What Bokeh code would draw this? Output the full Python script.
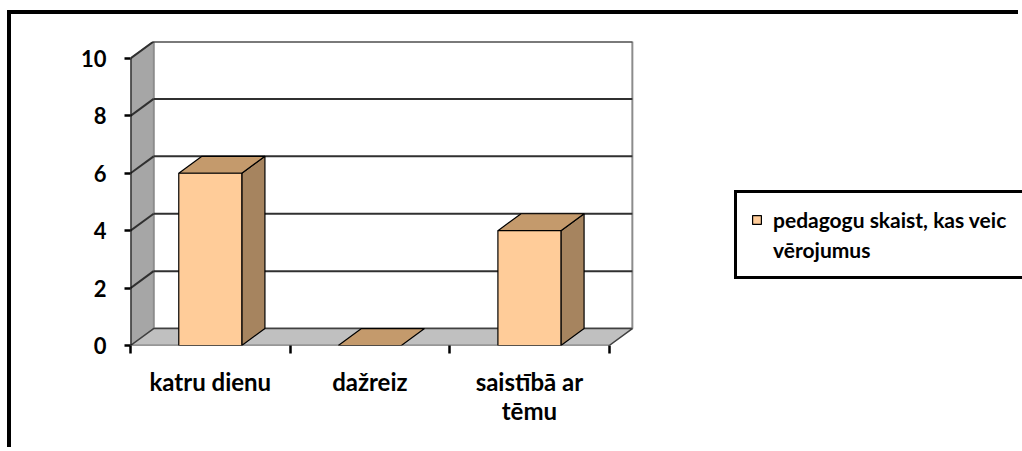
from bokeh.plotting import figure
from bokeh.models import Range1d, FixedTicker, Legend, LegendItem, ColumnDataSource
from bokeh.embed import file_html
from bokeh.resources import INLINE

# ---- data ----
categories = ["katru dienu", "dažreiz", "saistībā ar\ntēmu"]
values = [6, 0, 4]
y_ticks = [0, 2, 4, 6, 8, 10]
series_name = ["pedagogu skaist, kas veic", "vērojumus"]  # legend label, two lines

# ---- layout / style constants ----
BAR_W = 0.395
DX = 0.145   # 3D depth offset (x units)
DY = 0.59    # 3D depth offset (y units)
YMAX = 10
N = len(categories)
X_END = 5.59  # frame extends under the legend area
FONT = "Lato"
FRONT = "#ffcc99"
SIDE = "#a6845f"
TOP = "#c49a6c"

p = figure(width=1011, height=437, output_backend="svg", toolbar_location=None,
           x_range=Range1d(0, X_END), y_range=Range1d(0, YMAX + DY),
           min_border_left=119, min_border_top=27, min_border_bottom=106,
           min_border_right=0)
p.styles = {"margin-left": "7px", "margin-top": "10px",
            "border-left": "4px solid black", "border-top": "4px solid black"}
p.outline_line_color = None
p.xgrid.visible = False
p.ygrid.visible = False
p.background_fill_color = "white"
p.border_fill_color = "white"

# walls and floor
p.patch([DX, N + DX, N + DX, DX], [DY, DY, YMAX + DY, YMAX + DY],
        fill_color="white", line_color="#8c8c8c", line_width=2)
p.patch([0, 0, DX, DX], [0, YMAX, YMAX + DY, DY],
        fill_color="#a6a6a6", line_color="#8c8c8c", line_width=1.5)

# gridlines: back wall + left wall
gy = [t for t in y_ticks if t > 0]
p.segment(x0=[DX] * len(gy), y0=[t + DY for t in gy], x1=[N + DX] * len(gy),
          y1=[t + DY for t in gy], line_color="#303030", line_width=2)
p.segment(x0=[0] * len(gy), y0=gy, x1=[DX] * len(gy), y1=[t + DY for t in gy],
          line_color="#303030", line_width=2)

# floor
p.patch([0, N, N + DX, DX], [0, 0, DY, DY], fill_color="#c0c0c0",
        line_color="#404040", line_width=1.5)

# y axis line
p.segment(x0=[0], y0=[0], x1=[0], y1=[YMAX], line_color="black", line_width=2)

# bars (3D)
x0s = [i + 0.5 - BAR_W / 2 for i in range(N)]
x1s = [i + 0.5 + BAR_W / 2 for i in range(N)]
side_xs = [[b, b + DX, b + DX, b] for b in x1s]
side_ys = [[0, DY, v + DY, v] for v in values]
top_xs = [[a, b, b + DX, a + DX] for a, b in zip(x0s, x1s)]
top_ys = [[v, v, v + DY, v + DY] for v in values]
nz = [i for i, v in enumerate(values) if v > 0]
p.patches([side_xs[i] for i in nz], [side_ys[i] for i in nz], fill_color=SIDE,
          line_color="black", line_width=1.2)
p.patches(top_xs, top_ys, fill_color=TOP, line_color="black", line_width=1.2)
src = ColumnDataSource(dict(left=[x0s[i] for i in nz], right=[x1s[i] for i in nz],
                            top=[values[i] for i in nz], bottom=[0] * len(nz)))
front = p.quad(left="left", right="right", top="top", bottom="bottom", source=src,
               fill_color=FRONT, line_color="black", line_width=1.2)

# axes
xa = p.xaxis[0]
xa.ticker = FixedTicker(ticks=[i + 0.5 for i in range(N)],
                        minor_ticks=list(range(N + 1)))
xa.major_label_overrides = {i + 0.5: c for i, c in enumerate(categories)}
xa.axis_line_color = None
xa.major_tick_line_color = None
xa.major_tick_out = 0
xa.major_tick_in = 0
xa.minor_tick_line_color = "black"
xa.minor_tick_line_width = 2.5
xa.minor_tick_out = 8
xa.minor_tick_in = 0
xa.major_label_standoff = 13
xa.major_label_text_font = FONT
xa.major_label_text_font_style = "bold"
xa.major_label_text_font_size = "24px"
xa.major_label_text_color = "black"
xa.major_label_text_line_height = 1.03

ya = p.yaxis[0]
ya.ticker = FixedTicker(ticks=y_ticks)
ya.axis_line_color = None
ya.major_tick_line_color = "black"
ya.major_tick_line_width = 2.5
ya.major_tick_out = 6
ya.major_tick_in = 0
ya.minor_tick_line_color = None
ya.major_label_standoff = 18
ya.major_label_text_font = FONT
ya.major_label_text_font_style = "bold"
ya.major_label_text_font_size = "22px"
ya.major_label_text_color = "black"

# legend: one series, its name wrapped over two rows
legend = Legend(items=[LegendItem(label=series_name[0], renderers=[front]),
                       LegendItem(label=series_name[1], renderers=[])],
                location=(604, 66), padding=14, margin=0, spacing=5,
                glyph_width=11, glyph_height=11, label_standoff=11,
                label_width=260,
                border_line_color="black", border_line_width=3,
                border_line_alpha=1.0,
                background_fill_color="white",
                label_text_color="black",
                label_text_font=FONT, label_text_font_style="bold",
                label_text_font_size="21px")
p.add_layout(legend, "center")

open("out.html", "w").write(file_html(p, INLINE))
